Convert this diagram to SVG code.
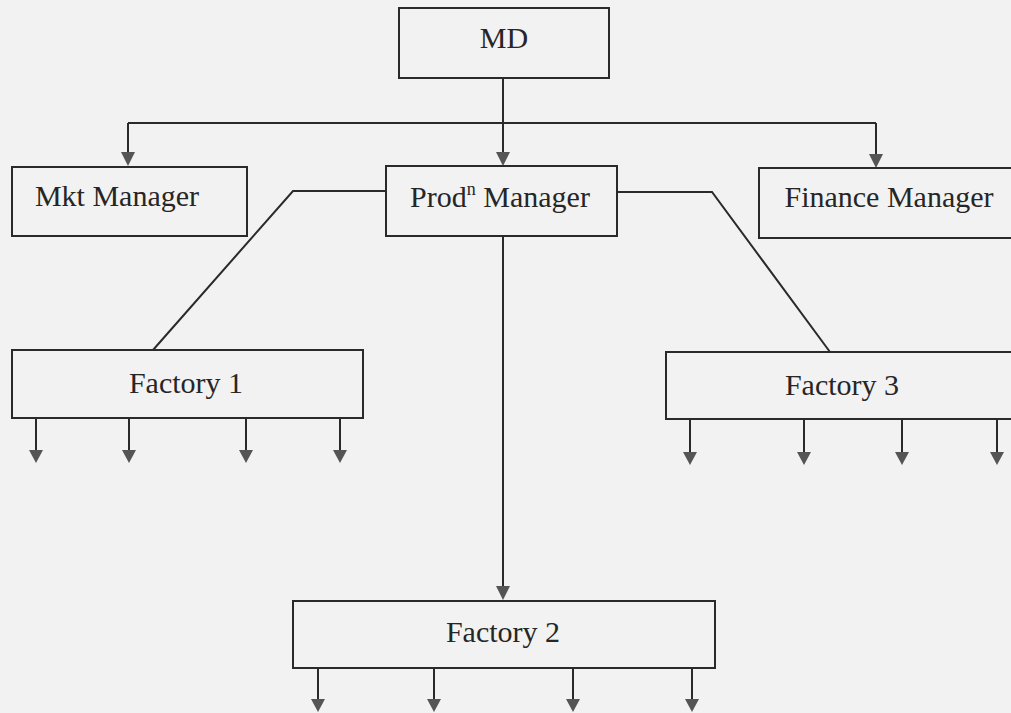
<svg xmlns="http://www.w3.org/2000/svg" width="1011" height="713" viewBox="0 0 1011 713">
<defs>
<marker id="ah" viewBox="0 0 14 14" refX="7" refY="14" markerWidth="14" markerHeight="14" markerUnits="userSpaceOnUse" orient="auto-start-reverse">
<path d="M0,0 L14,0 L7,14 Z" fill="#555"/>
</marker>
<style>
.box{fill:none;stroke:#2a2a2a;stroke-width:2}
.lbl{font-family:"Liberation Serif","Times New Roman",serif;font-size:30px;fill:#262626;text-anchor:middle}
.con{fill:none;stroke:#2a2a2a;stroke-width:2}
.arr{fill:none;stroke:#2a2a2a;stroke-width:2}
</style>
</defs>
<rect x="0" y="0" width="1011" height="713" fill="#f2f2f2"/>
<g id="connectors">
<line class="con" x1="503" y1="78" x2="503" y2="123"/>
<line class="con" x1="128" y1="123" x2="876" y2="123"/>
<path class="arr" d="M128,123 V154"/><path d="M121,152 L135,152 L128,166 Z" fill="#555"/>
<path class="arr" d="M503,123 V154"/><path d="M496,152 L510,152 L503,166 Z" fill="#555"/>
<path class="arr" d="M876,123 V156"/><path d="M869,154 L883,154 L876,168 Z" fill="#555"/>
<polyline class="con" points="386,191 293,191 153,350"/>
<polyline class="con" points="617,192 712,192 830,352"/>
<path class="arr" d="M503,236 V588"/><path d="M496,586 L510,586 L503,600 Z" fill="#555"/>
<g id="f1-out">
<path class="arr" d="M36,418 V452"/><path d="M29,450 L43,450 L36,463 Z" fill="#555"/>
<path class="arr" d="M129,418 V452"/><path d="M122,450 L136,450 L129,463 Z" fill="#555"/>
<path class="arr" d="M246,418 V452"/><path d="M239,450 L253,450 L246,463 Z" fill="#555"/>
<path class="arr" d="M340,418 V452"/><path d="M333,450 L347,450 L340,463 Z" fill="#555"/>
</g>
<g id="f3-out">
<path class="arr" d="M690,419 V454"/><path d="M683,452 L697,452 L690,465 Z" fill="#555"/>
<path class="arr" d="M804,419 V454"/><path d="M797,452 L811,452 L804,465 Z" fill="#555"/>
<path class="arr" d="M902,419 V454"/><path d="M895,452 L909,452 L902,465 Z" fill="#555"/>
<path class="arr" d="M997,419 V454"/><path d="M990,452 L1004,452 L997,465 Z" fill="#555"/>
</g>
<g id="f2-out">
<path class="arr" d="M318,668 V700"/><path d="M311,699 L325,699 L318,712 Z" fill="#555"/>
<path class="arr" d="M434,668 V700"/><path d="M427,699 L441,699 L434,712 Z" fill="#555"/>
<path class="arr" d="M573,668 V700"/><path d="M566,699 L580,699 L573,712 Z" fill="#555"/>
<path class="arr" d="M692,668 V700"/><path d="M685,699 L699,699 L692,712 Z" fill="#555"/>
</g>
</g>
<g id="md">
<rect class="box" x="399" y="8" width="210" height="70"/>
<text class="lbl" x="504" y="48">MD</text>
</g>
<g id="mkt">
<rect class="box" x="12" y="167" width="235" height="69"/>
<text class="lbl" x="117" y="206">Mkt Manager</text>
</g>
<g id="prod">
<rect class="box" x="386" y="166" width="231" height="70"/>
<text class="lbl" x="500" y="207">Prod<tspan font-size="18" dy="-12">n</tspan><tspan dy="12"> Manager</tspan></text>
</g>
<g id="finance">
<rect class="box" x="759" y="168" width="262" height="70"/>
<text class="lbl" x="889" y="207">Finance Manager</text>
</g>
<g id="factory1">
<rect class="box" x="12" y="350" width="351" height="68"/>
<text class="lbl" x="186" y="393">Factory 1</text>
</g>
<g id="factory3">
<rect class="box" x="666" y="352" width="360" height="67"/>
<text class="lbl" x="842" y="395">Factory 3</text>
</g>
<g id="factory2">
<rect class="box" x="293" y="601" width="422" height="67"/>
<text class="lbl" x="503" y="642">Factory 2</text>
</g>
</svg>
